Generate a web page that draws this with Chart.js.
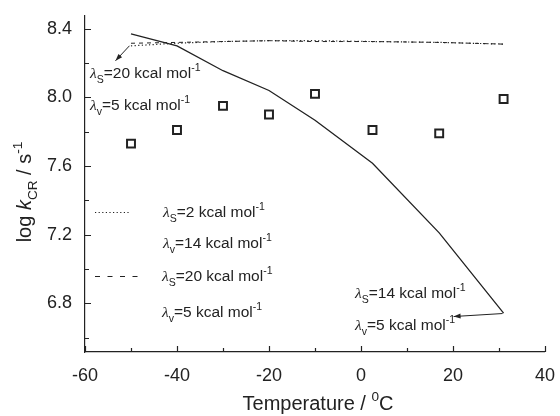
<!DOCTYPE html>
<html>
<head>
<meta charset="utf-8">
<script src="https://cdn.jsdelivr.net/npm/chart.js@4.4.0/dist/chart.umd.min.js"></script>
<style>
  html, body { margin: 0; padding: 0; background: #fff; }
</style>
</head>
<body>
<canvas id="myChart" width="560" height="416"></canvas>
<script>
// temperature (°C) of each measurement / model point
var temps = [-50, -40, -30, -20, -10, 2.5, 17, 31];
// measured log kCR (open squares)
var measured = [7.73, 7.81, 7.95, 7.90, 8.02, 7.81, 7.79, 7.99];
// model curves
var fit14_5 = [8.37, 8.30, 8.155, 8.04, 7.866, 7.616, 7.21, 6.743];   // solid
var fit2_14 = [8.30, 8.315, 8.325, 8.33, 8.33, 8.325, 8.32, 8.31];    // dotted
var fit20_5 = [8.315, 8.32, 8.325, 8.33, 8.325, 8.325, 8.32, 8.31];   // dashed
// axis ticks
var xTicks = [-60, -40, -20, 0, 20, 40];
var xMinor = [-50, -30, -10, 10, 30];
var yTicks = [6.8, 7.2, 7.6, 8.0, 8.4];
var yMinor = [6.6, 7.0, 7.4, 7.8, 8.2];

var FONT = '"Liberation Sans", Arial, sans-serif';
var SERIF = '"Liberation Serif", "Times New Roman", serif';
var INK = '#222';

function pts(ys) {
    return temps.map(function(t, i) { return {x: t, y: ys[i]}; });
}

function setPartFont(ctx, p, size) {
    var fs = (p.sub || p.sup) ? size * 0.68 : size;
    var fam = p.greek ? SERIF : FONT;
    var style = (p.greek || p.it) ? 'italic ' : '';
    ctx.font = style + fs + 'px ' + fam;
}

function richWidth(ctx, parts, size) {
    var w = 0;
    parts.forEach(function(p) { setPartFont(ctx, p, size); w += ctx.measureText(p.t).width; });
    return w;
}

function richText(ctx, x, y, parts, size) {
    ctx.textAlign = 'left';
    ctx.textBaseline = 'alphabetic';
    parts.forEach(function(p) {
        var dy = 0;
        if (p.sub) dy = size * 0.32;
        if (p.sup) dy = -size * 0.45;
        setPartFont(ctx, p, size);
        ctx.fillText(p.t, x, y + dy);
        x += ctx.measureText(p.t).width;
    });
}

function lam(sub, val) {
    return [{t: 'λ', greek: true}, {t: sub, sub: true}, {t: '=' + val + ' kcal mol'}, {t: '-1', sup: true}];
}

function arrow(ctx, x1, y1, x2, y2) {
    var a = Math.atan2(y2 - y1, x2 - x1);
    ctx.beginPath();
    ctx.moveTo(x1, y1);
    ctx.lineTo(x2, y2);
    ctx.stroke();
    ctx.beginPath();
    ctx.moveTo(x2, y2);
    ctx.lineTo(x2 - 7 * Math.cos(a) + 2.5 * Math.sin(a), y2 - 7 * Math.sin(a) - 2.5 * Math.cos(a));
    ctx.lineTo(x2 - 7 * Math.cos(a) - 2.5 * Math.sin(a), y2 - 7 * Math.sin(a) + 2.5 * Math.cos(a));
    ctx.closePath();
    ctx.fill();
}

var decorations = {
    id: 'decorations',
    afterDraw: function(chart) {
        var ctx = chart.ctx;
        var xs = chart.scales.x, ys = chart.scales.y;
        var area = chart.chartArea;
        ctx.save();
        ctx.strokeStyle = INK;
        ctx.fillStyle = INK;
        ctx.lineWidth = 1.2;

        // inward ticks
        ctx.beginPath();
        xTicks.concat(xMinor).forEach(function(v) {
            var len = xTicks.indexOf(v) >= 0 ? 6 : 4;
            var px = Math.round(xs.getPixelForValue(v)) + 0.5;
            ctx.moveTo(px, area.bottom);
            ctx.lineTo(px, area.bottom - len);
        });
        yTicks.concat(yMinor).forEach(function(v) {
            var len = yTicks.indexOf(v) >= 0 ? 6 : 4;
            var py = Math.round(ys.getPixelForValue(v)) + 0.5;
            ctx.moveTo(area.left, py);
            ctx.lineTo(area.left + len, py);
        });
        ctx.stroke();

        // axis titles
        var xt = [{t: 'Temperature / '}, {t: '0', sup: true}, {t: 'C'}];
        richText(ctx, 318 - richWidth(ctx, xt, 20) / 2, 410, xt, 20);

        var yt = [{t: 'log '}, {t: 'k', it: true}, {t: 'CR', sub: true}, {t: ' / s'}, {t: '-1', sup: true}];
        ctx.save();
        ctx.translate(31, 192);
        ctx.rotate(-Math.PI / 2);
        richText(ctx, -richWidth(ctx, yt, 20) / 2, 0, yt, 20);
        ctx.restore();

        // top annotation and arrow
        richText(ctx, 90, 78, lam('S', '20'), 15.5);
        richText(ctx, 90, 110, lam('v', '5'), 15.5);
        ctx.lineWidth = 1;
        var sx = xs.getPixelForValue(temps[0]), sy = ys.getPixelForValue(fit20_5[0]);
        arrow(ctx, sx - 1.5, sy + 2.5, sx - 15.5, sy + 17.5);

        // bottom-right annotation and arrow
        richText(ctx, 355, 298, lam('S', '14'), 15.5);
        richText(ctx, 355, 330, lam('v', '5'), 15.5);
        var n = temps.length - 1;
        var ex = xs.getPixelForValue(temps[n]), ey = ys.getPixelForValue(fit14_5[n]);
        arrow(ctx, ex - 1, ey + 0.5, ex - 50, ey + 3.5);

        // legend
        ctx.lineWidth = 1.2;
        ctx.setLineDash([1.2, 2.4]);
        ctx.beginPath(); ctx.moveTo(95, 212.5); ctx.lineTo(131, 212.5); ctx.stroke();
        ctx.setLineDash([5, 7.5]);
        ctx.beginPath(); ctx.moveTo(95, 276.5); ctx.lineTo(140, 276.5); ctx.stroke();
        ctx.setLineDash([]);
        richText(ctx, 163, 217, lam('S', '2'), 15.5);
        richText(ctx, 163, 248, lam('v', '14'), 15.5);
        richText(ctx, 162, 281, lam('S', '20'), 15.5);
        richText(ctx, 162, 317, lam('v', '5'), 15.5);

        ctx.restore();
    }
};

var ctx = document.getElementById('myChart').getContext('2d');
var chart = new Chart(ctx, {
    type: 'scatter',
    data: {
        datasets: [{
            label: 'measured',
            data: pts(measured),
            pointStyle: 'rect',
            pointRadius: 5.6,
            borderColor: INK,
            borderWidth: 2,
            backgroundColor: 'rgba(0,0,0,0)'
        }, {
            label: 'lS=14 lv=5',
            data: pts(fit14_5),
            showLine: true,
            pointRadius: 0,
            borderColor: INK,
            borderWidth: 1.3
        }, {
            label: 'lS=2 lv=14',
            data: pts(fit2_14),
            showLine: true,
            pointRadius: 0,
            borderColor: INK,
            borderWidth: 1.2,
            borderDash: [1.2, 2.4]
        }, {
            label: 'lS=20 lv=5',
            data: pts(fit20_5),
            showLine: true,
            pointRadius: 0,
            borderColor: INK,
            borderWidth: 1,
            borderDash: [4, 4]
        }]
    },
    options: {
        responsive: false,
        animation: false,
        devicePixelRatio: 1,
        layout: { padding: { top: 13, right: 9, left: 0, bottom: 0 } },
        plugins: { legend: { display: false }, tooltip: { enabled: false } },
        scales: {
            x: {
                type: 'linear',
                min: -60,
                max: 40,
                afterFit: function(s) { s.height = 64; },
                afterBuildTicks: function(s) { s.ticks = xTicks.map(function(v) { return {value: v}; }); },
                grid: { display: false },
                border: { display: true, color: INK, width: 1.2 },
                ticks: { color: INK, font: { family: FONT, size: 18 }, padding: 5, maxRotation: 0, autoSkip: false }
            },
            y: {
                type: 'linear',
                min: 6.516,
                max: 8.475,
                afterFit: function(s) { s.width = 85; },
                afterBuildTicks: function(s) { s.ticks = yTicks.map(function(v) { return {value: v}; }); },
                grid: { display: false },
                border: { display: true, color: INK, width: 1.2 },
                ticks: {
                    color: INK, font: { family: FONT, size: 18 }, padding: 5, autoSkip: false,
                    callback: function(v) { return v.toFixed(1); }
                }
            }
        }
    },
    plugins: [decorations]
});
</script>
</body>
</html>
